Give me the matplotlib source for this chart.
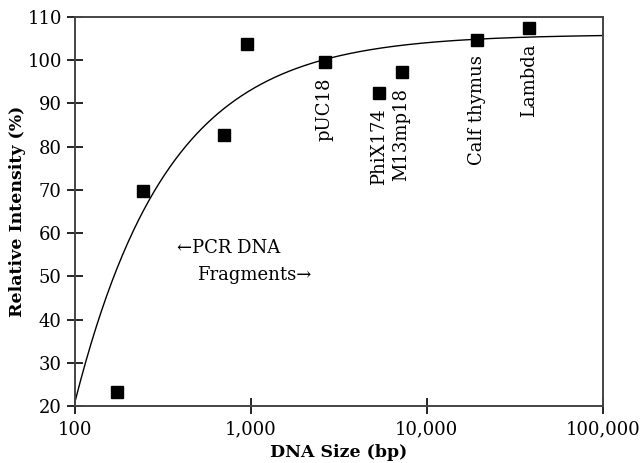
import matplotlib.pyplot as plt
import numpy as np
from matplotlib.ticker import FuncFormatter, NullLocator

# DNA size (bp) and relative intensity (%)
pcr_size = [173, 243, 703, 945]
pcr_intensity = [23.3, 69.8, 82.7, 103.8]

named_labels = ['pUC18', 'PhiX174', 'M13mp18', 'Calf thymus', 'Lambda']
named_size = [2630, 5330, 7180, 19300, 38100]
named_intensity = [99.6, 92.5, 97.2, 104.6, 107.4]

# saturation fit: I = i_max - i_drop * (size / 100) ** -p
i_max = 106.0
i_drop = 85.0
p = 0.82

plt.rcParams['font.family'] = ['DejaVu Serif']

fig = plt.figure(figsize=(6.44, 4.63), dpi=100)
ax = fig.add_axes([0.1165, 0.1231, 0.8195, 0.8402])

xs = np.logspace(2, 5, 400)
ax.plot(xs, i_max - i_drop * (xs / 100) ** -p, color='black', lw=1.0)

ax.plot(pcr_size + named_size, pcr_intensity + named_intensity, 's',
        color='black', markersize=8.2, clip_on=False)

for name, x, y in zip(named_labels, named_size, named_intensity):
    ax.annotate(name, (x, y), xytext=(0, -11), textcoords='offset points',
                rotation=90, ha='center', va='top', fontsize=13)

ax.text(380, 56.6, '\u2190PCR DNA', fontsize=13, ha='left', va='center')
ax.text(493, 50.3, 'Fragments\u2192', fontsize=13, ha='left', va='center')

ax.set_xscale('log')
ax.set_xlim(100, 100000)
ax.set_ylim(20, 110)
ax.set_yticks(range(20, 111, 10))
ax.set_xticks([100, 1000, 10000, 100000])
ax.xaxis.set_minor_locator(NullLocator())
ax.xaxis.set_major_formatter(FuncFormatter(lambda v, pos: f'{int(v):,}'))

for s in ax.spines.values():
    s.set_color('#444444')
    s.set_linewidth(1.4)
ax.tick_params(direction='inout', length=11, width=1.2, color='black',
               labelsize=13)
ax.tick_params(axis='x', pad=5)
ax.tick_params(axis='y', pad=4)

ax.set_xlabel('DNA Size (bp)', fontsize=12.5, fontweight='bold', labelpad=4)
ax.set_ylabel('Relative Intensity (%)', fontsize=12.5, fontweight='bold', labelpad=1)

fig.savefig('out.png', dpi=100)
